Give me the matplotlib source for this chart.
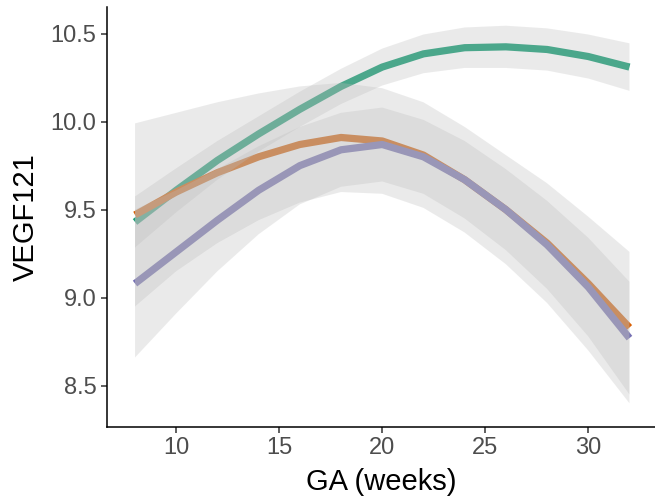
import matplotlib
matplotlib.use("Agg")
import matplotlib.pyplot as plt
import numpy as np

plt.rcParams['font.family'] = ['Liberation Sans', 'DejaVu Sans']

# gestational age grid (weeks)
ga_weeks = [8, 10, 12, 14, 16, 18, 20, 22, 24, 26, 28, 30, 32]

# smoothed VEGF121 fits per group
green_fit = [9.43, 9.61, 9.78, 9.93, 10.07, 10.20, 10.31, 10.385, 10.42, 10.425, 10.41, 10.37, 10.31]
orange_fit = [9.47, 9.60, 9.71, 9.80, 9.87, 9.91, 9.89, 9.81, 9.67, 9.50, 9.31, 9.08, 8.83]
purple_fit = [9.08, 9.26, 9.44, 9.61, 9.75, 9.84, 9.87, 9.80, 9.67, 9.50, 9.30, 9.06, 8.77]

# half-widths of the confidence bands
green_hw = [0.145, 0.125, 0.11, 0.10, 0.10, 0.10, 0.105, 0.11, 0.115, 0.12, 0.12, 0.125, 0.135]
orange_hw = [0.52, 0.45, 0.40, 0.36, 0.33, 0.31, 0.30, 0.30, 0.30, 0.31, 0.34, 0.38, 0.43]
purple_hw = [0.42, 0.35, 0.29, 0.25, 0.22, 0.21, 0.21, 0.21, 0.22, 0.23, 0.25, 0.28, 0.32]

colors = ['#1B9E77', '#D95F02', '#7570B3']

x_ticks = [10, 15, 20, 25, 30]
y_ticks = [8.5, 9.0, 9.5, 10.0, 10.5]
y_tick_labels = ['8.5', '9.0', '9.5', '10.0', '10.5']

W, H = 655, 499
fig = plt.figure(figsize=(W / 100, H / 100), dpi=100)
left, right, bottom, top = 107, 655, 427, 6.7
ax = fig.add_axes([left / W, 1 - bottom / H, (right - left) / W, (bottom - top) / H])

x = np.array(ga_weeks)
fits = [green_fit, orange_fit, purple_fit]
hws = [green_hw, orange_hw, purple_hw]

for f, c in zip(fits, colors):
    ax.plot(x, f, color=c, lw=5.2, solid_capstyle='butt', solid_joinstyle='round', zorder=2)

for f, h in zip(fits, hws):
    f = np.array(f); h = np.array(h)
    ax.fill_between(x, f - h, f + h, facecolor='#BCBCBC', alpha=0.3, lw=0, zorder=3)

ax.set_xlim(6.64, 33.24)
ax.set_ylim(8.265, 10.653)
ax.set_xticks(x_ticks)
ax.set_yticks(y_ticks)
ax.set_yticklabels(y_tick_labels)

for s in ['top', 'right']:
    ax.spines[s].set_visible(False)
for s in ['left', 'bottom']:
    ax.spines[s].set_linewidth(1.1)
    ax.spines[s].set_color('black')

ax.tick_params(length=4.5, width=1.1, color='#333333', labelcolor='#4D4D4D', labelsize=17)
ax.tick_params(axis='x', pad=2.5)
ax.tick_params(axis='y', pad=3)
ax.set_xlabel('GA (weeks)', fontsize=21, color='black', labelpad=7)
ax.set_ylabel('VEGF121', fontsize=21, color='black', labelpad=8)

fig.savefig('out.png', dpi=100)
